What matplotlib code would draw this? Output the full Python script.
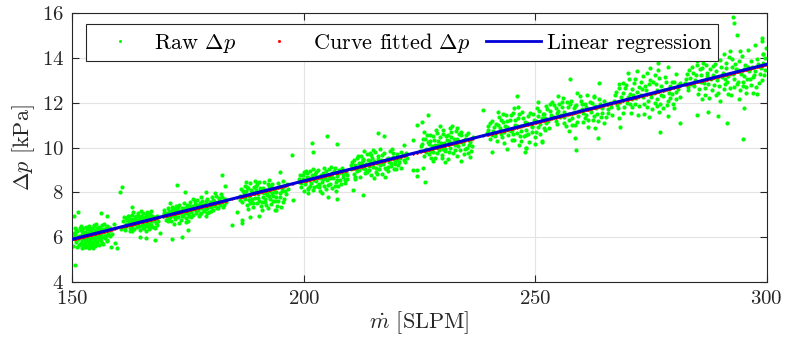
import numpy as np
import matplotlib
matplotlib.use("Agg")
import matplotlib.pyplot as plt
from matplotlib.lines import Line2D

plt.rcParams['font.family'] = 'serif'
plt.rcParams['font.serif'] = ['cmr10', 'DejaVu Serif']
plt.rcParams['mathtext.fontset'] = 'cm'
plt.rcParams['axes.formatter.use_mathtext'] = True

raw_c01 = """150.3 5.95 150.6 6.12 150.9 5.78 151.1 6.25 151.3 5.90 151.5 6.05 151.7 5.70 151.8 6.30 152.0 5.85
152.1 6.15 152.3 5.62 152.4 6.40 152.5 5.98 152.7 6.22 152.8 5.75 152.9 6.08 153.0 5.55 153.1 6.35 153.2 5.92
153.3 6.18 153.4 5.80 153.5 6.48 153.6 6.02 153.7 5.68 153.8 6.28 153.9 5.88 154.0 6.12 154.1 5.60 154.2 6.42
154.3 5.95 154.4 6.20 154.5 5.72 154.6 6.05 154.7 6.55 154.8 5.85 154.9 6.30 155.0 5.58 155.1 6.15 155.2 5.98
155.3 6.38 155.4 5.78 155.5 6.08 155.6 6.25 155.7 5.65 155.8 6.45 155.9 5.92 156.0 6.18 156.2 5.82 156.3 6.35
156.5 6.02 156.6 5.70 156.8 6.22 157.0 5.95 157.2 6.40 157.4 6.10 157.6 5.80 157.9 6.28 158.2 6.05 158.5 6.15
151.0 5.55 152.2 5.50 153.5 5.52 150.5 6.40 151.9 6.50 155.2 6.60 156.9 6.60 154.4 5.50 150.2 5.60
150.4 6.20 150.8 5.85 151.2 6.02 151.6 6.38 151.9 5.72 152.3 6.10 152.6 5.88 152.9 6.45 153.2 5.65 153.5 6.15
153.8 5.95 154.1 6.32 154.3 5.78 154.6 6.50 154.9 6.00 155.2 5.68 155.4 6.28 155.7 5.90 156.0 6.40 156.2 6.10
156.5 5.75 156.8 6.35 157.1 6.05 157.4 5.88 157.8 6.15 158.1 6.40 152.0 6.25 153.0 5.98 154.0 5.72 155.0 6.20
156.0 5.95 151.4 5.62 150.9 6.30 157.5 6.50 153.6 6.40 155.8 6.00 152.5 5.55 154.7 5.62 150.1 6.10 156.4 6.55
150.6 4.75 151.2 7.13 150.3 6.95 156.3 7.06 157.4 6.95 158.4 5.55 159.2 5.75 160.3 8.03 160.7 8.22 158.9 6.60"""

raw_c02 = """161.0 6.70 161.3 6.45 161.5 6.85 161.8 6.55 162.0 6.95 162.2 6.62 162.4 6.40 162.6 6.80 162.8 6.50
163.0 7.00 163.1 6.68 163.3 6.35 163.5 6.90 163.6 6.58 163.8 6.78 164.0 6.45 164.1 7.05 164.3 6.65 164.5 6.85
164.6 6.30 164.8 6.95 165.0 6.55 165.1 6.75 165.3 7.08 165.5 6.42 165.6 6.88 165.8 6.62 166.0 6.98 166.2 6.50
166.3 6.80 166.5 6.35 166.7 7.02 166.9 6.70 167.1 6.55 167.3 6.92 167.5 6.45 167.7 6.78 168.0 6.62 168.3 6.95
168.6 6.70 162.9 6.28 165.9 6.25 164.2 6.92 163.9 6.60 165.4 6.68 166.6 6.60 162.1 6.78 167.0 7.15
161.2 6.90 161.6 6.60 161.9 6.75 162.3 6.92 162.7 6.65 163.0 6.42 163.4 6.75 163.7 6.95 164.0 6.62 164.4 6.48
164.7 6.72 165.0 6.90 165.2 6.40 165.6 6.55 165.9 6.80 166.2 6.68 166.5 6.95 166.8 6.45 167.2 6.72 167.6 6.90
168.0 6.85 168.4 6.55 163.2 7.10 164.9 7.15 162.5 6.25 166.1 7.12 167.9 6.40 161.4 6.30
159.6 5.50 162.8 7.35 164.6 6.00 166.0 5.95 160.5 6.35 169.0 6.20 167.8 5.85"""

raw_c03 = """169.6 6.95 169.9 7.20 170.2 6.75 170.4 7.05 170.7 7.30 170.9 6.85 171.1 7.10 171.3 6.70 171.5 7.35
171.7 6.95 171.9 7.15 172.1 6.80 172.3 7.40 172.5 7.00 172.7 7.22 172.9 6.88 173.1 7.45 173.2 7.05 173.4 6.78
173.6 7.28 173.8 7.10 174.0 6.92 174.2 7.50 174.3 7.18 174.5 6.85 174.7 7.35 174.9 7.02 175.1 7.25 175.3 6.95
175.5 7.55 175.7 7.12 175.9 7.38 176.1 6.98 176.3 7.30 176.5 7.60 176.7 7.08 176.9 7.42 177.1 7.20 177.3 6.95
177.5 7.50 177.7 7.28 177.9 7.05 178.1 7.62 178.3 7.35 178.5 7.15 178.7 7.48 178.9 7.25 179.1 7.70 179.3 7.40
179.5 7.12 179.7 7.55 179.9 7.32 180.1 7.78 180.3 7.45 180.5 7.22 180.7 7.60 180.9 7.38 181.1 7.85 181.3 7.50
181.5 7.28 181.7 7.68 181.9 7.45 182.1 7.90 182.3 7.58 182.6 7.35 182.9 7.72 183.2 7.55 171.0 7.50 172.0 6.60
174.6 6.65 176.0 7.70 178.8 6.95 180.8 7.95 177.8 7.80 173.0 6.62 175.0 6.72
169.8 7.05 170.3 6.92 170.8 7.15 171.2 6.88 171.6 7.22 172.0 7.05 172.4 6.90 172.8 7.35 173.3 7.15 173.7 6.95
174.1 7.30 174.4 7.05 174.8 7.45 175.2 7.10 175.6 6.88 176.0 7.25 176.4 7.48 176.8 7.18 177.2 7.38 177.6 7.02
178.0 7.45 178.4 7.22 178.8 7.62 179.2 7.30 179.6 7.45 180.0 7.15 180.4 7.65 180.8 7.50 181.2 7.30 181.6 7.75
182.0 7.55 182.4 7.80 182.8 7.45 183.1 7.65 175.4 7.40 177.0 7.65 179.0 7.05 174.0 7.20 172.2 7.28 170.6 6.70
172.6 8.33 174.3 8.02 178.9 8.02 182.3 8.77 183.0 8.30 173.6 6.00 171.5 5.90 175.0 6.30 184.4 6.54 186.6 6.76
185.5 7.10"""

raw_c04 = """186.2 7.85 186.5 8.15 186.7 7.55 187.0 7.95 187.2 8.30 187.4 7.70 187.6 8.05 187.8 7.45 188.0 8.20
188.2 7.82 188.4 8.40 188.6 7.60 188.8 8.00 189.0 7.35 189.2 8.25 189.4 7.75 189.6 8.10 189.8 7.52 190.0 8.35
190.2 7.90 190.4 7.62 190.6 8.18 190.8 7.40 191.0 8.02 191.2 7.78 191.4 8.45 191.6 7.55 191.8 8.12 192.0 7.88
192.2 7.30 192.4 8.28 192.6 7.70 192.8 8.05 193.0 7.48 193.2 8.38 193.4 7.85 193.6 8.15 193.8 7.62 194.0 8.00
194.3 7.40 194.6 8.22 194.9 7.78 195.2 8.05 195.5 7.55 195.8 8.30 196.2 7.90 196.6 8.15 187.9 7.25 190.9 7.20
189.5 8.50 192.5 8.55 193.9 7.20 188.9 7.95 191.5 7.95 195.0 7.35
186.3 7.65 186.8 8.05 187.3 7.85 187.7 8.25 188.1 7.65 188.5 8.12 188.9 7.72 189.3 7.95 189.7 8.30 190.1 7.75
190.5 8.05 190.9 7.58 191.3 8.20 191.7 7.72 192.1 8.00 192.5 7.85 192.9 8.22 193.3 7.60 193.7 8.02 194.1 7.80
194.5 8.40 194.8 7.95 195.3 8.18 195.7 7.70 196.0 8.05 196.4 8.35 189.1 7.50 190.3 8.45 191.9 7.45 193.1 7.95
188.3 7.50 192.3 8.35 194.4 7.60 187.5 8.45 195.6 8.50
186.6 6.61 194.9 8.92 197.7 7.65 190.4 6.95 193.8 7.20 188.3 6.90 197.4 9.67"""

raw_c05 = """198.9 8.45 199.2 8.75 199.5 8.25 199.8 8.60 200.1 8.90 200.3 8.35 200.6 8.70 200.9 8.15 201.1 8.55
201.4 8.95 201.6 8.40 201.9 8.65 202.1 8.10 202.4 8.80 202.6 8.50 202.9 8.28 203.1 9.00 203.4 8.62 203.6 8.05
203.9 8.45 204.1 8.85 204.4 8.30 204.6 8.70 204.9 8.15 205.1 8.55 205.4 9.05 205.6 8.38 205.9 8.78 206.1 8.20
206.4 8.62 206.6 8.95 206.9 8.45 207.1 8.72 207.4 8.30 207.7 8.88 207.9 8.55 208.2 9.10 208.5 8.68 208.8 8.40
209.1 8.92 209.4 8.60 200.0 8.05 202.0 9.05 204.0 7.98 205.8 9.15 207.0 8.05 203.0 8.70 201.0 8.20
199.0 8.60 199.4 8.40 199.9 8.78 200.4 8.52 200.8 8.85 201.3 8.30 201.7 8.75 202.2 8.55 202.7 8.92 203.2 8.38
203.7 8.75 204.2 8.58 204.7 8.95 205.2 8.32 205.7 8.62 206.2 8.85 206.7 8.30 207.2 8.55 207.6 8.98 208.0 8.35
208.4 8.80 208.9 8.55 209.3 8.78 201.2 8.65 203.3 8.22 205.5 8.72 206.8 9.10 204.3 9.08 202.3 8.25 200.5 8.95
201.7 10.19 205.0 10.50 207.1 10.16 202.0 9.81 205.3 7.80 207.1 7.70 200.9 7.95"""

raw_c06 = """210.2 9.05 210.5 9.35 210.8 8.80 211.1 9.20 211.4 9.55 211.6 8.95 211.9 9.30 212.2 8.70 212.4 9.62
212.7 9.10 212.9 9.42 213.2 8.88 213.5 9.25 213.7 9.70 214.0 9.00 214.3 9.38 214.5 8.75 214.8 9.55 215.0 9.15
215.3 9.80 215.5 8.92 215.8 9.32 216.0 9.60 216.3 9.05 216.6 9.45 216.8 8.82 217.1 9.25 217.3 9.75 217.6 9.10
217.9 9.50 218.1 8.95 218.4 9.35 218.7 9.85 218.9 9.18 219.2 9.58 219.5 9.02 219.8 9.40 220.1 9.72 220.4 9.22
220.7 9.52 221.0 9.08 221.4 9.65 221.8 9.35 222.2 9.55 211.0 8.60 213.0 9.85 215.2 8.62 217.5 8.70 219.0 9.95
216.5 9.92 212.0 9.00 214.2 9.75
210.3 9.20 210.9 9.45 211.3 9.05 211.8 9.60 212.3 9.20 212.8 9.50 213.3 9.05 213.8 9.45 214.1 9.18 214.6 9.65
215.1 9.38 215.6 9.10 216.1 9.48 216.4 9.22 216.9 9.65 217.4 9.40 217.8 9.05 218.3 9.55 218.8 9.30 219.3 9.75
219.7 9.25 220.2 9.50 220.6 9.35 221.1 9.80 221.6 9.45 222.0 9.75 213.6 8.90 215.9 8.80 218.2 9.15 220.0 9.05
214.9 9.90 212.5 9.35
216.1 10.63 217.3 10.50 211.1 8.70 212.9 7.88 223.7 9.00 224.4 11.00 221.7 10.10 210.7 8.10"""

raw_c07 = """225.2 9.85 225.6 10.15 225.9 9.60 226.2 10.40 226.5 9.95 226.8 10.25 227.0 9.70 227.3 10.55 227.6 10.05
227.9 9.80 228.1 10.35 228.4 9.55 228.7 10.65 229.0 10.10 229.2 9.90 229.5 10.45 229.8 9.65 230.0 10.80
230.3 10.20 230.6 9.85 230.8 10.50 231.1 9.50 231.4 10.30 231.6 10.00 231.9 10.70 232.2 9.75 232.4 10.40
232.7 10.10 233.0 9.60 233.2 10.85 233.5 10.25 233.8 9.90 234.0 10.55 234.3 10.15 234.6 9.70 234.9 10.40
235.2 10.00 235.5 10.65 235.8 10.25 236.2 9.85 236.5 10.45 226.0 10.70 228.0 9.40 230.5 9.35 232.0 10.95
234.0 9.40 229.4 10.95 231.2 10.55 227.2 10.30 233.6 10.60 230.1 9.95
225.4 10.05 225.8 10.40 226.3 9.80 226.7 10.55 227.1 10.15 227.5 9.85 227.9 10.50 228.3 10.10 228.8 9.75
229.1 10.30 229.6 10.20 230.1 10.60 230.4 9.95 230.9 10.35 231.3 9.80 231.7 10.45 232.1 10.20 232.6 9.90
233.1 10.40 233.4 10.05 233.9 10.70 234.4 10.30 234.8 9.95 235.1 10.55 235.6 10.10 236.0 10.35 236.4 10.05
228.6 10.80 231.5 10.85 229.9 9.55 232.9 10.75 227.4 9.55 235.4 9.75
224.4 9.00 224.4 8.73 226.2 8.47 225.5 11.15 226.9 11.45 223.7 10.34 225.8 9.10 238.8 11.68 240.6 9.81
235.9 9.59"""

raw_c08 = """239.6 10.65 239.9 10.95 240.3 10.40 240.6 11.20 240.9 10.75 241.2 10.50 241.5 11.05 241.8 10.30
242.1 11.35 242.4 10.85 242.7 10.60 243.0 11.15 243.3 10.20 243.6 11.45 243.9 10.90 244.2 10.55 244.5 11.25
244.8 10.75 245.1 11.55 245.4 10.35 245.7 11.00 246.0 10.65 246.3 11.30 246.6 10.10 246.9 10.95 247.2 11.60
247.5 10.50 247.8 11.15 248.1 10.80 248.4 11.40 248.7 10.25 249.0 11.05 249.3 10.70 249.6 11.50 249.9 10.45
250.2 11.20 250.5 10.90 250.8 11.65 251.1 10.60 251.5 11.30 251.9 10.85 252.3 11.10 242.0 11.60 244.0 9.95
246.2 11.80 248.0 10.00 250.0 10.15 245.0 10.80 247.0 10.30 243.2 10.70 249.4 10.95 251.4 10.30
239.8 10.80 240.2 11.10 240.7 10.55 241.1 10.90 241.6 10.65 242.0 11.00 242.5 11.25 242.9 10.45 243.4 10.95
243.8 11.20 244.3 10.80 244.7 11.45 245.2 10.60 245.6 11.25 246.1 10.95 246.5 11.50 247.0 10.75 247.4 11.30
247.9 10.55 248.3 11.10 248.8 11.55 249.2 10.90 249.7 11.25 250.1 10.70 250.6 11.40 251.0 11.05 251.6 11.50
252.1 10.80 244.9 10.35 246.8 10.50 248.5 10.60 243.0 11.50 245.5 11.75 250.4 11.75
246.0 12.30 247.8 9.81 248.0 10.00 251.4 10.26 250.7 12.05"""

raw_c09 = """252.0 11.50 252.4 11.85 252.8 11.20 253.2 11.65 253.6 12.05 254.0 11.35 254.4 11.75 254.8 11.05
255.2 11.95 255.6 11.45 256.0 12.20 256.3 11.60 256.7 10.95 257.0 11.80 257.4 11.25 257.8 12.10 258.1 11.55
258.5 11.00 258.9 11.90 259.2 11.40 259.6 12.30 260.0 11.70 260.3 11.15 260.7 11.95 261.0 11.45 261.4 10.90
261.8 12.05 262.1 11.60 262.5 11.25 262.9 11.85 263.3 11.50 263.7 12.15 264.1 11.35 264.5 11.75 264.9 11.10
265.4 11.95 265.8 11.55 266.3 11.80 253.0 10.85 255.0 12.30 257.2 10.75 259.0 12.45 261.2 12.35 263.0 10.85
254.6 11.55 258.3 11.75 260.8 11.30 256.2 11.35 262.8 12.25
252.2 11.30 252.6 11.70 253.1 11.95 253.5 11.45 254.0 11.90 254.5 11.20 254.9 11.65 255.4 11.35 255.8 11.80
256.3 11.10 256.8 12.05 257.2 11.50 257.6 11.95 258.0 11.30 258.6 11.85 259.0 11.15 259.4 11.65 259.9 12.10
260.4 11.55 260.9 11.80 261.3 11.25 261.7 11.70 262.2 12.00 262.6 11.40 263.1 11.75 263.5 11.20 264.0 11.95
264.4 11.55 264.8 12.10 265.2 11.35 265.7 11.70 266.1 12.00 266.5 11.45 257.9 11.00 260.1 11.95 255.7 12.05
257.5 13.05 258.7 9.89 262.8 12.30 263.8 12.87 258.5 10.42"""

raw_c10 = """267.0 12.10 267.4 12.50 267.8 11.75 268.2 12.85 268.6 12.25 269.0 11.55 269.4 12.65 269.8 12.00
270.2 13.05 270.5 12.40 270.9 11.80 271.3 12.90 271.7 12.20 272.1 11.45 272.5 12.70 272.9 12.35 273.2 13.20
273.6 11.95 274.0 12.55 274.4 12.10 274.8 13.00 275.2 11.70 275.6 12.45 276.0 12.85 276.4 12.15 276.8 11.60
277.2 12.75 277.6 12.30 278.0 13.15 278.4 11.90 278.8 12.60 279.2 12.20 279.6 12.95 280.0 11.75 280.4 12.50
280.8 12.80 281.2 12.25 268.0 11.30 270.0 13.35 272.0 13.40 274.5 11.35 276.5 13.45 278.6 11.40 280.5 13.30
269.0 12.90 271.0 12.15 273.0 12.60 275.0 12.25 277.0 11.95 279.0 12.45 271.5 11.95 275.8 13.25
267.2 12.35 267.6 11.90 268.0 12.65 268.4 12.05 268.9 12.45 269.2 11.80 269.6 12.80 270.0 12.25 270.4 11.95
270.8 12.60 271.2 12.35 271.6 13.05 272.0 12.50 272.4 11.85 272.8 12.95 273.3 12.25 273.8 12.75 274.2 11.80
274.6 12.85 275.0 12.40 275.4 12.95 275.9 12.00 276.3 12.55 276.7 13.10 277.1 12.35 277.5 11.75 277.9 12.55
278.3 12.95 278.7 12.10 279.1 12.75 279.5 12.40 280.0 12.95 280.4 12.15 280.9 12.60 281.3 12.90 270.6 11.55
273.5 11.50 276.2 11.85 279.8 11.95 274.2 13.35
268.3 10.93 263.6 10.41 277.0 10.71 281.3 11.08 274.8 13.55 276.5 13.78 278.7 13.60 284.9 11.45"""

raw_c11 = """282.3 12.90 282.7 13.30 283.1 12.55 283.5 13.10 283.9 13.60 284.3 12.75 284.7 13.25 285.1 12.40
285.5 13.50 285.9 12.95 286.3 13.80 286.7 12.65 287.1 13.35 287.5 12.20 287.9 13.05 288.3 13.65 288.7 12.80
289.1 13.40 289.5 12.45 289.9 13.90 290.3 13.15 290.7 12.60 291.1 13.55 291.5 12.95 291.9 14.05 292.3 12.35
292.7 13.30 293.1 13.75 293.5 12.85 293.9 13.45 294.3 12.55 294.7 14.10 295.1 13.20 295.5 12.70 295.9 13.60
296.3 13.05 296.7 13.85 297.1 12.45 297.5 13.40 297.9 13.95 298.3 12.90 298.7 13.55 299.1 14.20 299.5 13.25
299.8 14.45 284.0 14.00 286.0 12.15 288.0 14.15 290.0 12.10 292.0 14.30 294.0 12.15 296.0 14.35 298.0 12.40
285.0 13.70 289.0 12.35 291.0 13.05 293.0 12.70 295.0 13.50 297.0 13.15 287.0 13.20 299.0 14.75 299.6 14.00
288.6 13.95 292.4 13.60 294.9 12.95
282.5 13.05 282.9 12.70 283.3 13.45 283.7 12.85 284.1 13.35 284.5 13.00 284.9 13.85 285.3 12.60 285.7 13.25
286.1 13.55 286.5 12.90 286.9 13.70 287.3 12.85 287.7 13.50 288.1 12.55 288.5 13.25 288.9 13.75 289.3 13.00
289.7 12.75 290.1 13.60 290.5 13.35 290.9 12.85 291.3 13.80 291.7 13.20 292.1 12.65 292.5 13.95 292.9 13.05
293.3 13.50 293.7 12.95 294.1 13.85 294.5 13.30 294.9 12.75 295.3 13.70 295.7 13.05 296.1 13.40 296.5 12.80
296.9 13.60 297.3 13.25 297.7 12.70 298.1 13.75 298.5 13.30 298.9 13.00 299.3 13.80 299.7 13.45 287.2 14.05
290.8 14.20 294.2 14.30 286.6 12.35 291.6 12.40 295.6 12.45
292.7 15.85 293.0 15.57 294.8 10.40 295.2 11.77 291.4 11.10 293.5 15.03 297.5 14.60 299.0 14.90 299.2 14.20
289.5 11.40 287.4 11.60"""

raw_clusters = [raw_c01, raw_c02, raw_c03, raw_c04, raw_c05, raw_c06,
                raw_c07, raw_c08, raw_c09, raw_c10, raw_c11]

# linear regression end values and curve-fit coefficients (kPa vs SLPM)
reg_x = [150, 300]
reg_y = [5.90, 13.72]
fit_coef = [0.05213, -1.93]      # curve fitted delta p (nearly coincident with regression)

x_ticks = [150, 200, 250, 300]
y_ticks = [4, 6, 8, 10, 12, 14, 16]

# ---- parse raw data ----
vals = np.concatenate([np.array(c.split(), dtype=float) for c in raw_clusters])
raw_x = vals[0::2]
raw_y = vals[1::2]
fit_x = np.sort(raw_x)
fit_y = np.polyval(fit_coef, fit_x)

# ---- figure ----
fig = plt.figure(figsize=(7.85, 3.49), dpi=100)
ax = fig.add_axes([0.0921, 0.1928, 0.8846, 0.7691])

ax.plot(raw_x, raw_y, linestyle='none', marker='o', ms=3.0, mew=0,
        color='#00ff00', zorder=2)
ax.plot(fit_x, fit_y, linestyle='none', marker='o', ms=1.6, mew=0,
        color='#ff0000', zorder=3)
ax.plot(reg_x, reg_y, color='#0000d8', lw=2.2, zorder=4)

ax.set_xlim(x_ticks[0], x_ticks[-1])
ax.set_ylim(y_ticks[0], y_ticks[-1])
ax.set_xticks(x_ticks)
ax.set_yticks(y_ticks)
ax.grid(True, color='#e3e3e3', lw=0.8)
ax.set_axisbelow(True)
ax.tick_params(direction='in', top=True, right=True, length=5, width=0.8,
               color='#262626', labelsize=15, labelcolor='#262626', pad=6)
for s in ax.spines.values():
    s.set_color('#262626')
    s.set_linewidth(0.8)

ax.set_xlabel(r'$\dot{m}$ [SLPM]', fontsize=16, color='#262626', labelpad=1)
ax.set_ylabel(r'$\Delta p$ [kPa]', fontsize=16, color='#262626', labelpad=3)

handles = [
    Line2D([], [], linestyle='none', marker='o', ms=2.2, mew=0, color='#00ff00'),
    Line2D([], [], linestyle='none', marker='o', ms=2.2, mew=0, color='#ff0000'),
    Line2D([], [], color='#0000d8', lw=2.0),
]
labels = [r'Raw $\Delta p$', r'Curve fitted $\Delta p$', 'Linear regression']
leg = ax.legend(handles, labels, loc='upper left', bbox_to_anchor=(0.0197, 0.960),
                ncol=3, fontsize=16, frameon=True, fancybox=False,
                edgecolor='#262626', framealpha=1, handlelength=2.5,
                columnspacing=0.7, handletextpad=0.25, borderpad=0.3,
                borderaxespad=0)
leg.get_frame().set_linewidth(0.8)

fig.savefig('out.png', dpi=100)
